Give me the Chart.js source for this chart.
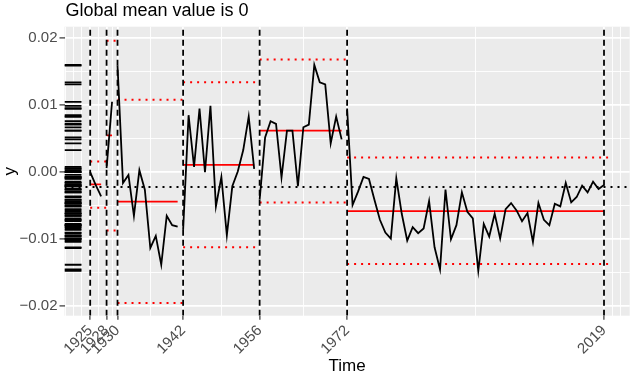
<!DOCTYPE html>
<html>
<head>
<meta charset="utf-8">
<script src="https://cdn.jsdelivr.net/npm/chart.js@4.4.1/dist/chart.umd.min.js"></script>
<style>
  html, body { margin: 0; padding: 0; background: #fff; }
  #wrap { width: 640px; height: 377px; position: relative; }
</style>
</head>
<body>
<div id="wrap"><canvas id="chart"></canvas></div>
<script>
// yearly values, first one is 1925
const firstYear = 1925;
const values = [
  0.0000, -0.0019, -0.0036,
  0.0006, 0.0105,
  0.0159, -0.0016, -0.0004, -0.0065, 0.0003, -0.0026, -0.0113, -0.0095, -0.0138, -0.0065, -0.0079, -0.0081,
  -0.0086, 0.0085, 0.0008, 0.0095, 0.0000, 0.0099, -0.0051, -0.0007, -0.0094, -0.0021, 0.0001, 0.0033, 0.0083, 0.0005,
  -0.0041, 0.0052, 0.0076, 0.0072, -0.0008, 0.0062, 0.0062, -0.0021, 0.0067, 0.0071, 0.0160, 0.0134, 0.0131, 0.0043, 0.0083, 0.0049,
  0.0095, -0.0049, -0.0029, -0.0007, -0.0010, -0.0041, -0.0071, -0.0090, -0.0099, -0.0009,
  -0.0062, -0.0102, -0.0082, -0.0091, -0.0084, -0.0043, -0.0112, -0.0145, -0.0026, -0.0100,
  -0.0079, -0.0030, -0.0059, -0.0069, -0.0147, -0.0077, -0.0096, -0.0062, -0.0099, -0.0055,
  -0.0046, -0.0057, -0.0073, -0.0061, -0.0104, -0.0046, -0.0071, -0.0079, -0.0047, -0.0051,
  -0.0016, -0.0045, -0.0037, -0.0020, -0.0030, -0.0014, -0.0025, -0.0019
];

const changepoints = [1925, 1928, 1930, 1942, 1956, 1972, 2019];
const regimeMeans = [-0.0018, 0.0055, -0.0044, 0.0011, 0.0062, -0.0058];
const upperBounds = [0.0016, 0.0196, 0.0108, 0.0134, 0.0168, 0.0022];
const lowerBounds = [-0.0053, -0.0087, -0.0195, -0.0112, -0.0045, -0.0137];
const globalMean = -0.0022;

const xMinorBreaks = [1920.5, 1922, 1923.5, 1926.5, 1929, 1936, 1949, 1964, 1995.5, 2020.5, 2022];
const yMajorTicks = [-0.02, -0.01, 0, 0.01, 0.02];
const yTickLabels = ['\u22120.02', '\u22120.01', '0.00', '0.01', '0.02'];
const yMinorTicks = [-0.015, -0.005, 0.005, 0.015];
const xLimits = [1920.3, 2023.7];
const yLimits = [-0.0214, 0.0217];

const titleText = 'Global mean value is 0';
const fontFamily = '"Liberation Sans", Arial, sans-serif';

const years = values.map((v, i) => firstYear + i);
const lastYear = years[years.length - 1];
const starts = changepoints.slice(0, -1);

const datasets = [];

// dashed vertical lines at the change points
changepoints.forEach(cp => {
  datasets.push({
    data: [{ x: cp, y: yLimits[0] }, { x: cp, y: yLimits[1] }],
    borderColor: '#000000',
    borderWidth: 1.8,
    borderDash: [6, 4],
    order: 0
  });
});

starts.forEach((start, i) => {
  const isLast = i === starts.length - 1;
  const end = isLast ? lastYear : starts[i + 1] - 1;
  const next = isLast ? lastYear + 1 : starts[i + 1];
  const pts = years
    .map((yr, k) => ({ x: yr, y: values[k] }))
    .filter(p => p.x >= start && p.x <= end);

  datasets.push({ data: pts, borderColor: '#000000', borderWidth: 1.8, order: 1 });

  datasets.push({
    data: [{ x: start, y: regimeMeans[i] }, { x: end, y: regimeMeans[i] }],
    borderColor: '#FF0000',
    borderWidth: 1.8,
    order: 2
  });

  [upperBounds[i], lowerBounds[i]].forEach(b => {
    datasets.push({
      data: [{ x: start, y: b }, { x: next, y: b }],
      borderColor: '#FF0000',
      borderWidth: 2,
      borderDash: [2, 5],
      order: 3
    });
  });
});

// global mean
datasets.push({
  data: [{ x: xLimits[0], y: globalMean }, { x: xLimits[1], y: globalMean }],
  borderColor: '#000000',
  borderWidth: 2,
  borderDash: [2, 5],
  order: 4
});

// rug on the left side
const rugX = xLimits[0] + 0.015 * (xLimits[1] - xLimits[0]);
datasets.push({
  type: 'scatter',
  data: values.map(v => ({ x: rugX, y: v })),
  pointStyle: 'line',
  pointRadius: 8.5,
  borderColor: '#000000',
  pointBorderColor: '#000000',
  pointBorderWidth: 1.8,
  order: 5
});

const panelPlugin = {
  id: 'panel',
  beforeDraw(chart) {
    const { ctx, chartArea: a } = chart;
    ctx.save();
    ctx.fillStyle = '#FFFFFF';
    ctx.fillRect(0, 0, chart.width, chart.height);
    ctx.fillStyle = '#EBEBEB';
    ctx.fillRect(a.left, a.top, a.right - a.left, a.bottom - a.top);
    ctx.restore();
  },
  afterDraw(chart) {
    const { ctx, chartArea: a } = chart;
    ctx.save();
    ctx.font = '18px ' + fontFamily;
    ctx.fillStyle = '#000000';
    ctx.textBaseline = 'alphabetic';
    ctx.fillText(titleText, a.left + 1, 16);
    ctx.restore();
  }
};

const isMajorX = c => c.tick && changepoints.includes(c.tick.value);
const isMajorY = c => c.tick && yMajorTicks.includes(c.tick.value);

new Chart(document.getElementById('chart'), {
  type: 'line',
  data: { datasets },
  options: {
    responsive: true,
    maintainAspectRatio: false,
    animation: false,
    events: [],
    layout: { padding: { top: 26.7, right: 7.5, bottom: 0, left: 0 } },
    elements: {
      point: { radius: 0 },
      line: { tension: 0, fill: false }
    },
    plugins: {
      legend: { display: false },
      tooltip: { enabled: false },
      title: { display: false }
    },
    scales: {
      x: {
        type: 'linear',
        min: xLimits[0],
        max: xLimits[1],
        afterBuildTicks: s => {
          s.ticks = [...changepoints, ...xMinorBreaks].sort((a, b) => a - b).map(v => ({ value: v }));
        },
        afterFit: s => { s.height = 61.3; },
        border: { display: false },
        grid: {
          color: '#FFFFFF',
          lineWidth: c => isMajorX(c) ? 1.8 : 0.9,
          tickLength: 4,
          tickWidth: 1.2,
          tickColor: c => isMajorX(c) ? '#333333' : 'rgba(0,0,0,0)'
        },
        ticks: {
          autoSkip: false,
          minRotation: 45,
          maxRotation: 45,
          padding: 2,
          color: '#4D4D4D',
          font: { family: fontFamily, size: 15 },
          callback: v => changepoints.includes(v) ? String(v) : ''
        },
        title: {
          display: true,
          text: 'Time',
          color: '#000000',
          font: { family: fontFamily, size: 17 },
          padding: { top: 0, bottom: 0 }
        }
      },
      y: {
        type: 'linear',
        min: yLimits[0],
        max: yLimits[1],
        afterBuildTicks: s => {
          s.ticks = [...yMajorTicks, ...yMinorTicks].sort((a, b) => a - b).map(v => ({ value: v }));
        },
        afterFit: s => { s.width = 64.5; },
        border: { display: false },
        grid: {
          color: '#FFFFFF',
          lineWidth: c => isMajorY(c) ? 1.8 : 0.9,
          tickLength: 5,
          tickWidth: 1.2,
          tickColor: c => isMajorY(c) ? '#333333' : 'rgba(0,0,0,0)'
        },
        ticks: {
          padding: 2,
          color: '#4D4D4D',
          font: { family: fontFamily, size: 15 },
          callback: v => {
            const i = yMajorTicks.indexOf(v);
            return i >= 0 ? yTickLabels[i] : '';
          }
        },
        title: {
          display: true,
          text: 'y',
          color: '#000000',
          font: { family: fontFamily, size: 17 },
          padding: { top: 0, bottom: 0 }
        }
      }
    }
  },
  plugins: [panelPlugin]
});
</script>
</body>
</html>
